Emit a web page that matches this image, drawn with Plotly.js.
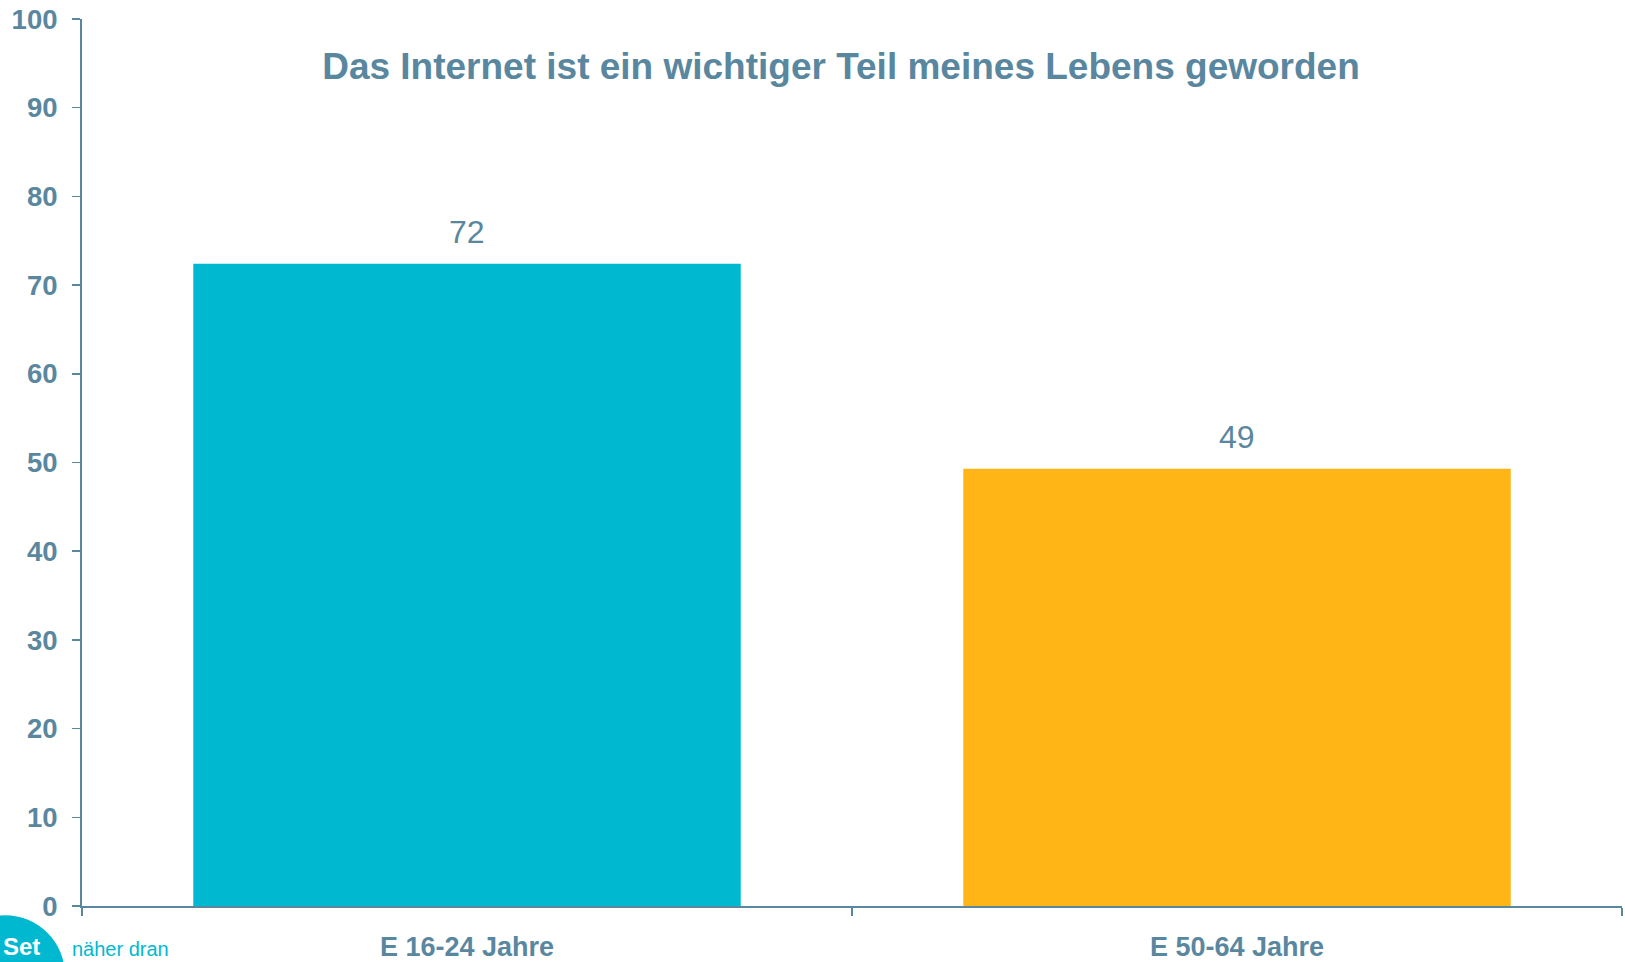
<!DOCTYPE html>
<html>
<head>
<meta charset="utf-8">
<script src="https://cdn.plot.ly/plotly-3.0.1.min.js"></script>
<style>
  html, body { margin: 0; padding: 0; background: #ffffff; }
  #chart { width: 1625px; height: 962px; }
</style>
</head>
<body>
<div id="chart"></div>
<script>
// ---- Data ----
const categories = ['E 16-24 Jahre', 'E 50-64 Jahre'];
const values = [72.4, 49.3];
const valueLabels = ['72', '49'];
const barColors = ['#00B9D1', '#FEB515'];
const yTickValues = [0, 10, 20, 30, 40, 50, 60, 70, 80, 90, 100];
const chartTitle = 'Das Internet ist ein wichtiger Teil meines Lebens geworden';

// ---- Style ----
const textColor = '#5A87A0';
const fontFamily = '"Liberation Sans", Arial, sans-serif';

const trace = {
  type: 'bar',
  x: categories,
  y: values,
  marker: { color: barColors, line: { width: 0 } },
  hoverinfo: 'skip'
};

const annotations = categories.map((c, i) => ({
  x: c, y: values[i], xref: 'x', yref: 'y',
  text: valueLabels[i], showarrow: false,
  yanchor: 'bottom', yshift: 12,
  font: { family: fontFamily, size: 32, color: textColor }
}));

// Logo texts (bottom left)
annotations.push({
  xref: 'paper', yref: 'paper', x: (1 - 82) / 1540, y: (905.7 - 962) / 887,
  xanchor: 'left', yanchor: 'bottom', showarrow: false, text: 'Set',
  font: { family: fontFamily, size: 24, color: '#ffffff', weight: 'bold' }
});
annotations.push({
  xref: 'paper', yref: 'paper', x: (70 - 82) / 1540, y: (905.7 - 962) / 887,
  xanchor: 'left', yanchor: 'bottom', showarrow: false, text: 'näher dran',
  font: { family: fontFamily, size: 20, color: '#00B9D1' }
});

const layout = {
  width: 1625,
  height: 962,
  margin: { l: 82, r: 3, t: 19, b: 56, pad: 0 },
  paper_bgcolor: '#ffffff',
  plot_bgcolor: '#ffffff',
  showlegend: false,
  bargap: 0.289,
  title: {
    text: chartTitle,
    xref: 'container', x: 841 / 1625, xanchor: 'center',
    yref: 'container', y: 1 - 66 / 962, yanchor: 'middle',
    font: { family: fontFamily, size: 37, color: textColor, weight: 'bold' }
  },
  xaxis: {
    type: 'category',
    showline: true, linecolor: textColor, linewidth: 2,
    ticks: 'outside', tickson: 'boundaries', ticklen: 8, tickwidth: 1.5, tickcolor: textColor,
    showgrid: false, zeroline: false,
    tickfont: { family: fontFamily, size: 27, color: textColor, weight: 'bold' },
    ticklabelstandoff: 16,
    fixedrange: true
  },
  yaxis: {
    range: [0, 100],
    tickvals: yTickValues,
    showline: true, linecolor: textColor, linewidth: 2,
    ticks: 'outside', ticklen: 8, tickwidth: 1.5, tickcolor: textColor,
    showgrid: false, zeroline: false,
    tickfont: { family: fontFamily, size: 27.5, color: textColor, weight: 'bold' },
    ticklabelstandoff: 9,
    fixedrange: true
  },
  shapes: [{
    type: 'circle', xref: 'paper', yref: 'paper',
    x0: (-55 - 82) / 1540, x1: (65 - 82) / 1540,
    y0: (905.7 - 1035) / 887, y1: (905.7 - 915) / 887,
    fillcolor: '#00B9D1', line: { width: 0 }, layer: 'below'
  }],
  annotations: annotations
};

Plotly.newPlot('chart', [trace], layout, { displayModeBar: false, staticPlot: true });
</script>
</body>
</html>
